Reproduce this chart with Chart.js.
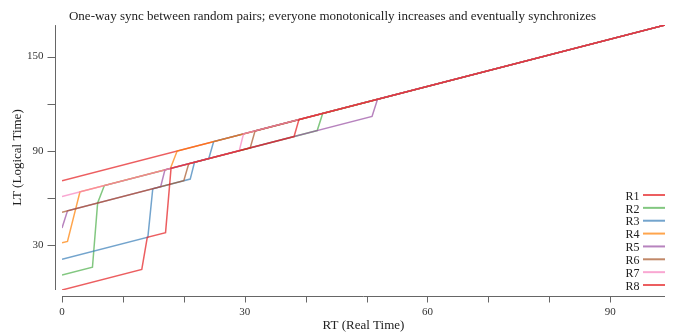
<!DOCTYPE html>
<html lang="en">
<head>
    <meta charset="UTF-8">
    <title>One-way sync between random pairs</title>
    <script src="https://cdn.jsdelivr.net/npm/chart.js"></script>
    <style>
        html, body {
            margin: 0;
            padding: 0;
            background: #fff;
        }
    </style>
</head>
<body>
    <canvas id="syncChart" width="673" height="332"></canvas>

    <script>
        // Replicas and their (RT, LT) vertices
        const replicas = ['R1', 'R2', 'R3', 'R4', 'R5', 'R6', 'R7', 'R8'];
        const r1 = [[0, 71], [99, 170]];
        const r2 = [[0, 11], [5.0, 16], [5.85, 56.85], [6.95, 67.95], [41.9, 102.9], [42.8, 113.8], [99, 170]];
        const r3 = [[0, 21], [14.1, 35.1], [14.9, 65.9], [21.05, 72.05], [21.75, 82.75], [24.1, 85.1], [24.9, 95.9], [99, 170]];
        const r4 = [[0, 31.5], [0.9, 32.4], [2.95, 63.95], [17.8, 78.8], [18.9, 89.9], [99, 170]];
        const r5 = [[0, 41], [0.9, 51.9], [16.2, 67.2], [16.9, 77.9], [50.9, 111.9], [51.8, 122.8], [99, 170]];
        const r6 = [[0, 51], [20.0, 71], [20.8, 81.8], [30.9, 91.9], [31.7, 102.7], [99, 170]];
        const r7 = [[0, 61], [29.1, 90.1], [29.8, 100.8], [99, 170]];
        const r8 = [[0, 1.5], [13.1, 14.6], [14.0, 35.0], [17.0, 38.0], [17.9, 78.9], [38.1, 99.1], [38.9, 109.9], [99, 170]];
        const series = [r1, r2, r3, r4, r5, r6, r7, r8];

        // Axis ticks
        const xTicks = [0, 10, 20, 30, 40, 50, 60, 70, 80, 90];
        const xTickLabels = ['0', '', '', '30', '', '', '60', '', '', '90'];
        const yTicks = [30, 60, 90, 120, 150];
        const yTickLabels = ['30', '', '90', '', '150'];

        const colors = [
            'rgba(228,26,28,0.7)',
            'rgba(77,175,74,0.7)',
            'rgba(55,126,184,0.7)',
            'rgba(255,127,0,0.7)',
            'rgba(152,78,163,0.7)',
            'rgba(166,86,40,0.7)',
            'rgba(247,129,191,0.7)',
            'rgba(228,26,28,0.7)'
        ];

        const serif = '"Liberation Serif", "Times New Roman", serif';

        // d3-style axes, pulled a few pixels away from the plot area
        const offsetAxes = {
            id: 'offsetAxes',
            afterDraw(chart) {
                const { ctx, chartArea: a, scales: { x, y } } = chart;
                ctx.save();
                ctx.strokeStyle = '#666';
                ctx.lineWidth = 1;
                ctx.beginPath();
                const ax = a.left - 6.5;
                ctx.moveTo(ax, a.top);
                ctx.lineTo(ax, a.bottom);
                y.ticks.forEach(t => {
                    const py = Math.round(y.getPixelForValue(t.value)) + 0.5;
                    ctx.moveTo(ax - 8, py);
                    ctx.lineTo(ax, py);
                });
                const ay = a.bottom + 6.5;
                ctx.moveTo(a.left, ay);
                ctx.lineTo(a.right, ay);
                x.ticks.forEach(t => {
                    const px = Math.round(x.getPixelForValue(t.value)) + 0.5;
                    ctx.moveTo(px, ay);
                    ctx.lineTo(px, ay + 6);
                });
                ctx.stroke();
                ctx.restore();
            }
        };

        // legend on the right: label, then a line sample
        const sideLegend = {
            id: 'sideLegend',
            afterDraw(chart) {
                const ctx = chart.ctx;
                ctx.save();
                ctx.font = '12px ' + serif;
                ctx.textAlign = 'right';
                ctx.textBaseline = 'middle';
                chart.data.datasets.forEach((ds, i) => {
                    const ly = 195 + i * 12.86;
                    ctx.fillStyle = '#222';
                    ctx.fillText(ds.label, 639.5, ly + 1.5);
                    ctx.strokeStyle = ds.borderColor;
                    ctx.lineWidth = 2;
                    ctx.beginPath();
                    ctx.moveTo(643, ly);
                    ctx.lineTo(665, ly);
                    ctx.stroke();
                });
                ctx.restore();
            }
        };

        new Chart(document.getElementById('syncChart'), {
            type: 'line',
            data: {
                datasets: replicas.map((name, i) => ({
                    label: name,
                    data: series[i].map(([rt, lt]) => ({ x: rt, y: lt })),
                    borderColor: colors[i],
                    borderWidth: 1.5,
                    pointRadius: 0,
                    tension: 0,
                    fill: false,
                    order: replicas.length - i
                }))
            },
            options: {
                responsive: false,
                animation: false,
                layout: { padding: { left: 0, right: 8, top: 0, bottom: 0 } },
                plugins: {
                    legend: { display: false },
                    tooltip: { enabled: false },
                    title: {
                        display: true,
                        text: 'One-way sync between random pairs; everyone monotonically increases and eventually synchronizes',
                        color: '#222',
                        font: { family: serif, size: 13, weight: 'normal', lineHeight: 1.2 },
                        padding: { top: 6.2, bottom: 1.2 }
                    }
                },
                scales: {
                    x: {
                        type: 'linear',
                        min: 0,
                        max: 99,
                        afterBuildTicks: s => { s.ticks = xTicks.map(v => ({ value: v })); },
                        afterFit: s => { s.height = 42; },
                        grid: { drawOnChartArea: false, drawTicks: false },
                        border: { display: false },
                        ticks: {
                            autoSkip: false,
                            maxRotation: 0,
                            padding: 16,
                            color: '#333',
                            font: { family: serif, size: 11 },
                            callback: (v, i) => xTickLabels[i]
                        },
                        title: {
                            display: true,
                            text: 'RT (Real Time)',
                            color: '#222',
                            font: { family: serif, size: 13, lineHeight: 1 },
                            padding: 0
                        }
                    },
                    y: {
                        type: 'linear',
                        min: 1.5,
                        max: 170,
                        afterBuildTicks: s => { s.ticks = yTicks.map(v => ({ value: v })); },
                        afterFit: s => { s.width = 62; },
                        grid: { drawOnChartArea: false, drawTicks: false },
                        border: { display: false },
                        ticks: {
                            autoSkip: false,
                            padding: 18.5,
                            color: '#333',
                            font: { family: serif, size: 11 },
                            callback: (v, i) => yTickLabels[i]
                        },
                        title: {
                            display: true,
                            text: 'LT (Logical Time)',
                            color: '#222',
                            font: { family: serif, size: 13, lineHeight: 1 },
                            padding: { top: 11.5, bottom: 0 }
                        }
                    }
                }
            },
            plugins: [offsetAxes, sideLegend]
        });
    </script>
</body>
</html>
